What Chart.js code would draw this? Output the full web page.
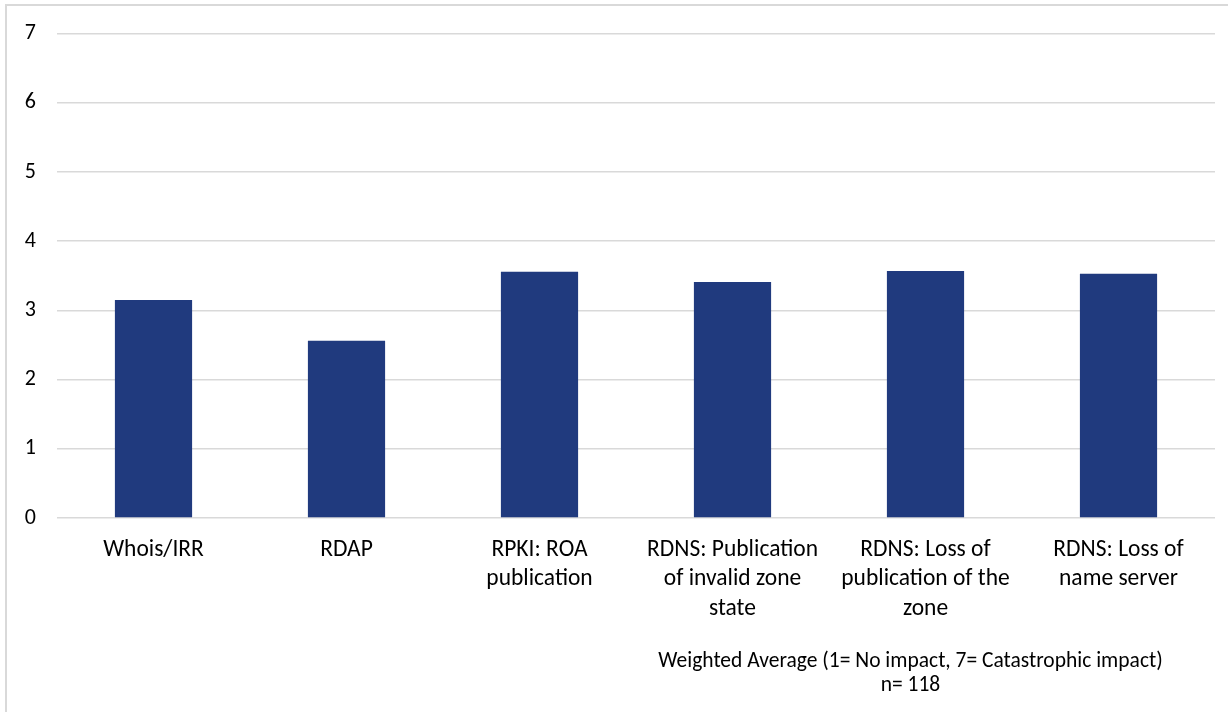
<!DOCTYPE html>
<html>
<head>
<meta charset="utf-8">
<script src="https://cdn.jsdelivr.net/npm/chart.js@4/dist/chart.umd.min.js"></script>
<style>
    html, body { margin: 0; padding: 0; background: #fff; }
    #box {
        position: absolute; left: 5px; top: 4px;
        width: 1221px; height: 706px;
        border-left: 2px solid #d9d9d9;
        border-top: 2px solid #d9d9d9;
    }
    #myChart { display: block; }
</style>
</head>
<body>
<div id="box"><canvas id="myChart" width="1221" height="706"></canvas></div>
<script>
// categories (multi-line labels wrap the same way as the printed axis)
var categories = [
    'Whois/IRR',
    'RDAP',
    ['RPKI: ROA', 'publication'],
    ['RDNS: Publication', 'of invalid zone', 'state'],
    ['RDNS: Loss of', 'publication of the', 'zone'],
    ['RDNS: Loss of', 'name server']
];
// weighted average impact score
var scores = [3.15, 2.56, 3.56, 3.41, 3.57, 3.53];
var yTicks = [0, 1, 2, 3, 4, 5, 6, 7];
var caption = ['Weighted Average (1= No impact, 7= Catastrophic impact)', 'n= 118'];

var FONT = 'Carlito, Calibri, Lato, sans-serif';
var myChart;

// caption under the axis, sits right of centre
var captionPlugin = {
    id: 'caption',
    afterDraw: function(chart) {
        var ctx = chart.ctx;
        var area = chart.chartArea;
        var cx = area.left + (area.right - area.left) * 0.737;
        ctx.save();
        ctx.fillStyle = '#000';
        ctx.font = '21.5px ' + FONT;
        ctx.textAlign = 'center';
        ctx.textBaseline = 'middle';
        ctx.fillText(caption[0], cx, area.bottom + 144);
        ctx.fillText(caption[1], cx, area.bottom + 168);
        ctx.restore();
    }
};

function drawChart() {
    if (myChart) {
        myChart.destroy();
    }
    var ctx = document.getElementById('myChart').getContext('2d');
    myChart = new Chart(ctx, {
        type: 'bar',
        data: {
            labels: categories,
            datasets: [{
                data: scores,
                backgroundColor: '#203a7e',
                borderWidth: 0,
                categoryPercentage: 1,
                barPercentage: 0.4
            }]
        },
        options: {
            responsive: false,
            animation: false,
            layout: { padding: { left: 0, right: 13, top: 0, bottom: 0 } },
            plugins: {
                legend: { display: false },
                tooltip: { enabled: false }
            },
            scales: {
                x: {
                    grid: { display: false, drawTicks: false },
                    border: { display: false },
                    ticks: {
                        color: '#000',
                        font: { family: FONT, size: 23.5, lineHeight: 1.26 },
                        padding: 17,
                        maxRotation: 0,
                        autoSkip: false
                    },
                    afterFit: function(s) { s.height = 194; }
                },
                y: {
                    min: 0,
                    max: 7,
                    afterBuildTicks: function(s) {
                        s.ticks = yTicks.map(function(v) { return { value: v }; });
                    },
                    grid: { color: '#d9d9d9', lineWidth: 1.5, drawTicks: false },
                    border: { display: false },
                    ticks: {
                        color: '#000',
                        // small lineHeight keeps the top label from pushing the plot down
                        font: { family: FONT, size: 22, lineHeight: 0.6 },
                        padding: 21
                    },
                    afterFit: function(s) { s.width = 50; }
                }
            }
        },
        plugins: [captionPlugin]
    });
}

drawChart();
</script>
</body>
</html>
